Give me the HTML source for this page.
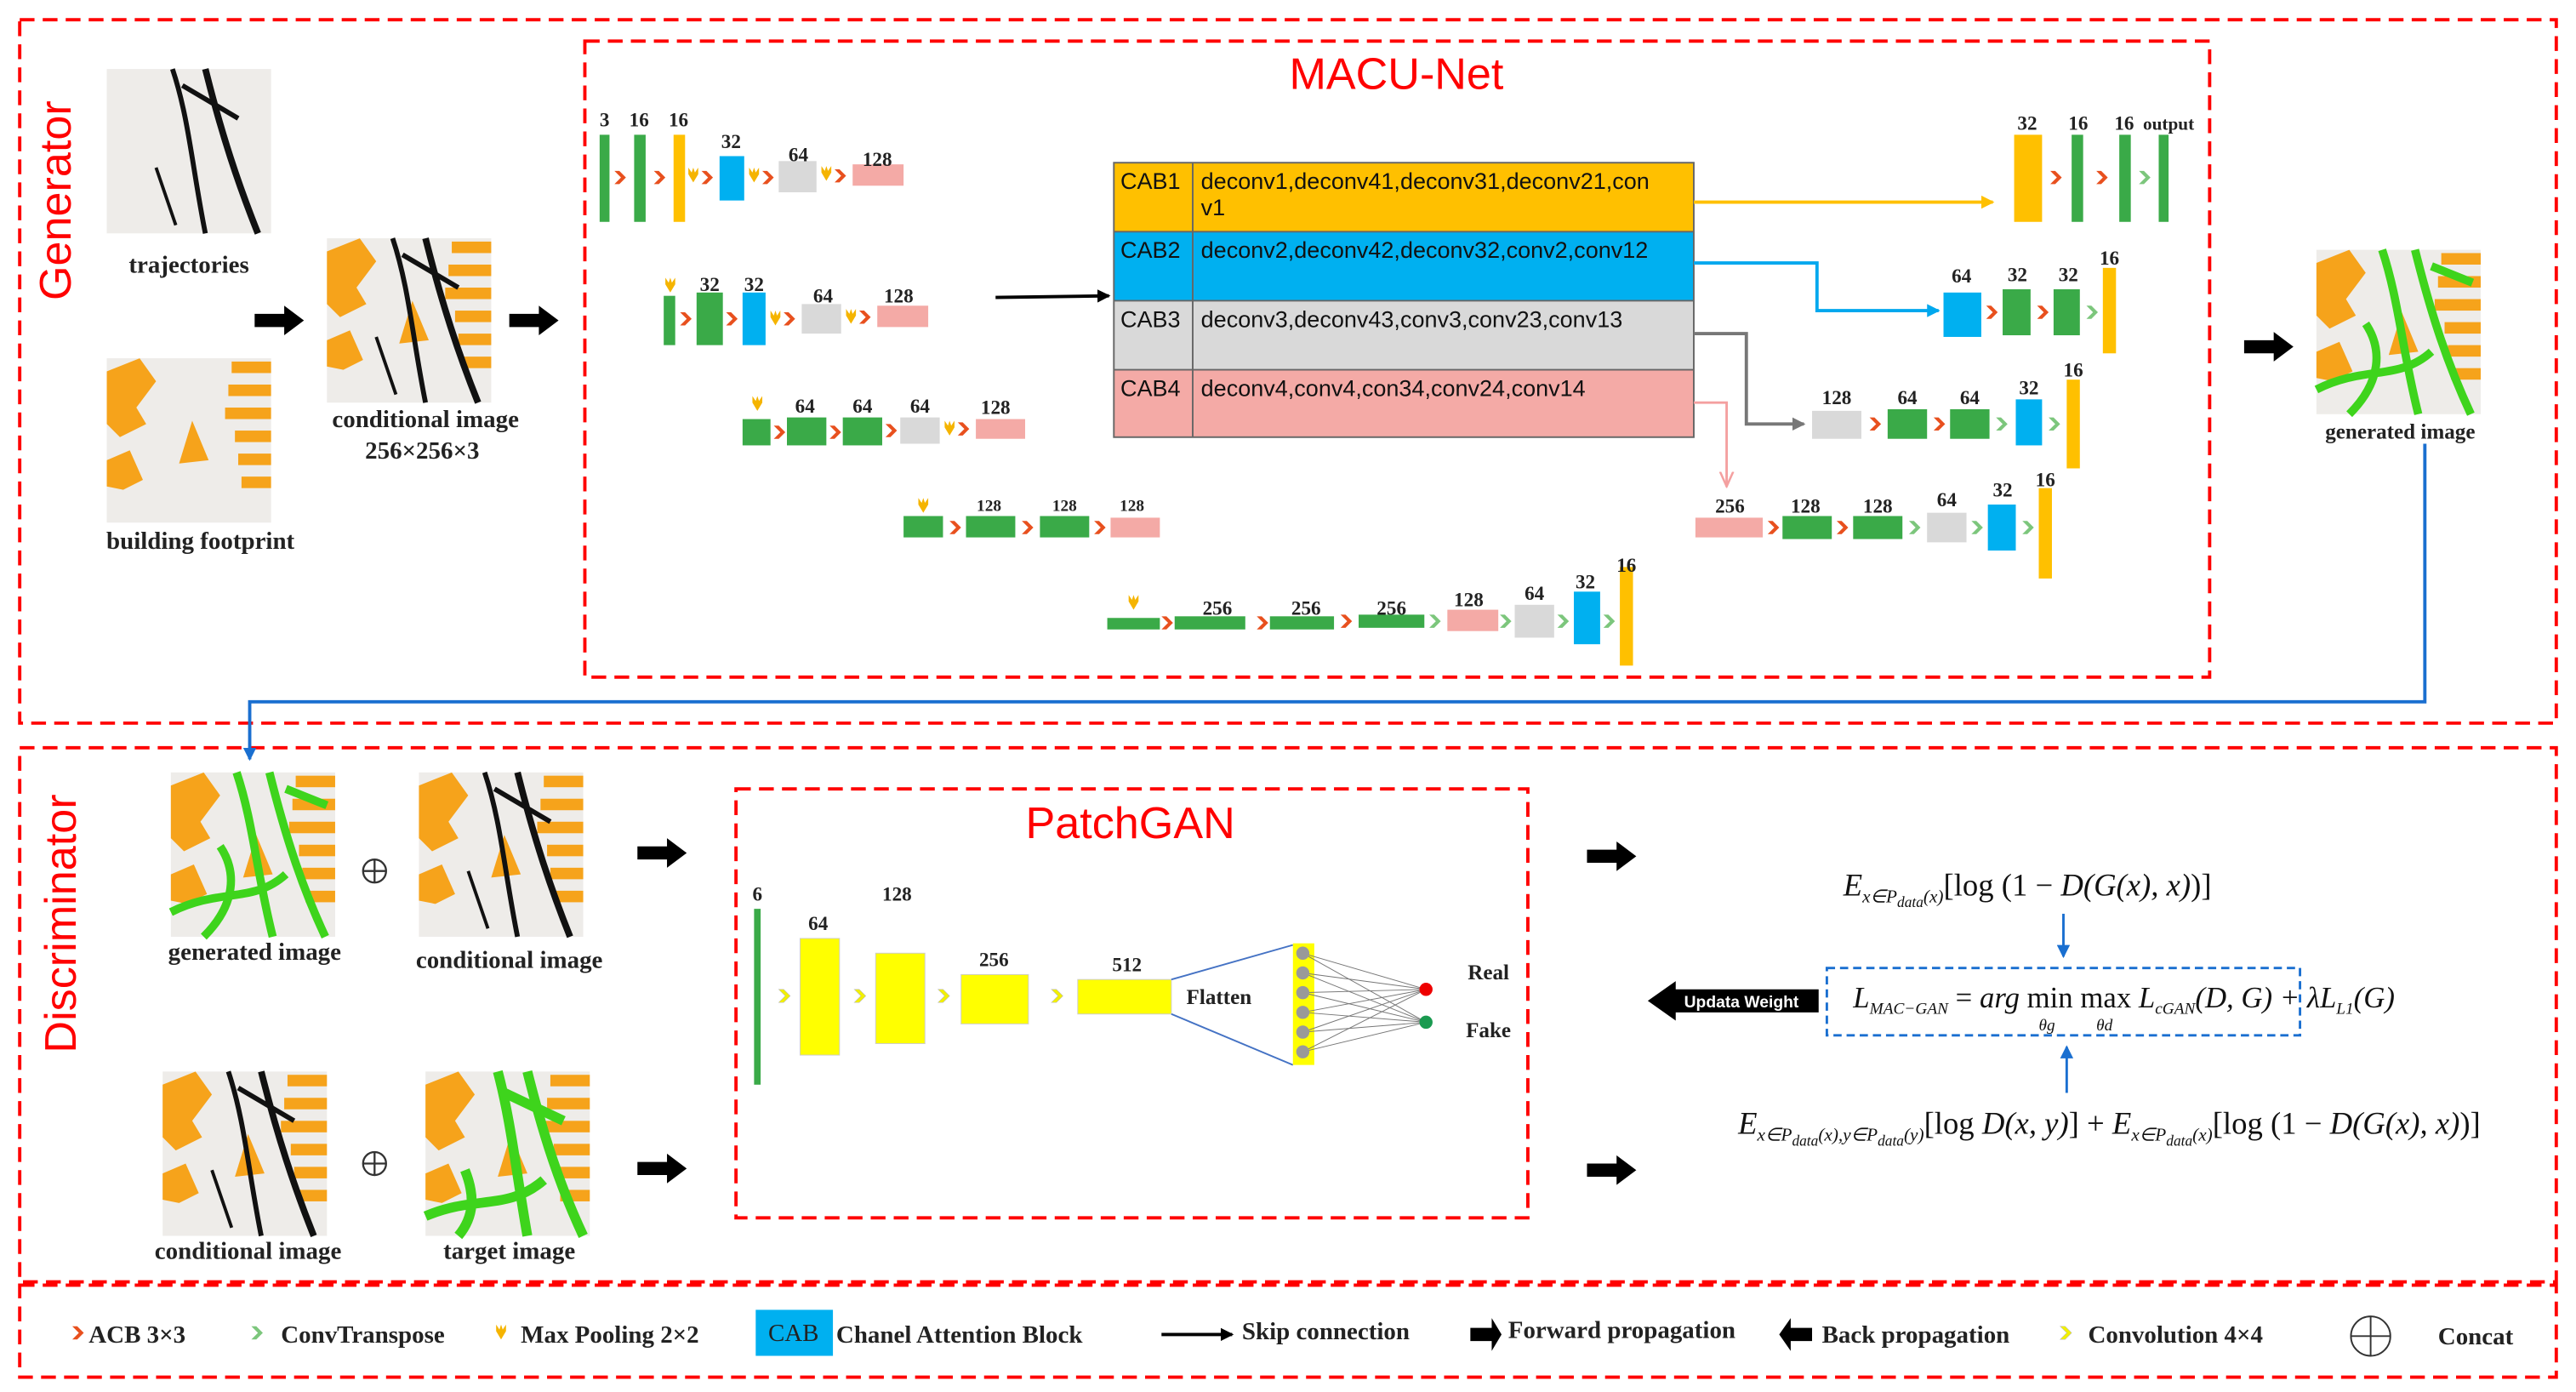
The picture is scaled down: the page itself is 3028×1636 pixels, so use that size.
<!DOCTYPE html>
<html><head><meta charset="utf-8"><style>
html,body{margin:0;padding:0;background:#fff;width:3028px;height:1636px;overflow:hidden}
svg{display:block}
.n{font-family:"Liberation Serif",serif;font-weight:bold;font-size:12px;fill:#222;text-anchor:middle}
.lb{font-family:"Liberation Serif",serif;font-weight:bold;font-size:15px;fill:#222;text-anchor:middle}
.cab{font-family:"Liberation Sans",sans-serif;font-size:14px;fill:#111}
.mf{font-family:"Liberation Serif",serif;font-style:italic;font-size:19px;fill:#111}
.lg{font-family:"Liberation Serif",serif;font-weight:bold;font-size:15px;fill:#222}
.big{font-family:"Liberation Sans",sans-serif;font-size:27px;fill:#f00}
</style></head><body>
<svg width="3028" height="1636" viewBox="0 0 1568 847" preserveAspectRatio="none" xmlns="http://www.w3.org/2000/svg">
<defs>
<polygon id="ch" points="0,0 3,0 7,4 3,8 0,8 4,4" fill="#e8501e"/>
<polygon id="cg" points="0,0 3,0 7,4 3,8 0,8 4,4" fill="#7cc67c"/>
<polygon id="cy" points="0,0 3,0 7,4 3,8 0,8 4,4" fill="#f2f000" stroke="#bbb" stroke-width=".3"/>
<polygon id="mp" points="0,0 2,3 3,0 4,3 6,0 6,4 3,9 0,4" fill="#f5b400"/>
<g id="bldg">
<rect width="100" height="100" fill="#eeece9"/>
<polygon points="0,8 20,0 30,14 18,30 24,40 8,48 0,40" fill="#f6a31b"/>
<polygon points="52,38 62,62 44,64" fill="#f6a31b"/>
<polygon points="0,62 14,56 22,74 10,80 0,78" fill="#f6a31b"/>
<g fill="#f6a31b"><rect x="76" y="2" width="24" height="7"/><rect x="74" y="16" width="26" height="7"/><rect x="72" y="30" width="28" height="7"/><rect x="78" y="44" width="22" height="7"/><rect x="80" y="58" width="20" height="7"/><rect x="82" y="72" width="18" height="7"/></g>
</g>
<g id="trajl" fill="none" stroke="#111" stroke-width="3">
<path d="M40,0 C50,30 52,60 60,100"/><path d="M60,0 C70,40 80,70 92,100" stroke-width="4"/><path d="M46,10 L80,30"/><path d="M30,60 L42,95" stroke-width="2"/>
</g>
<g id="traj"><rect width="100" height="100" fill="#eeece9"/><use href="#trajl"/></g>
<g id="cond"><use href="#bldg"/><use href="#trajl"/></g>
<g id="gen"><use href="#bldg"/><g fill="none" stroke="#3ed41c" stroke-width="5"><path d="M40,0 C50,30 52,60 62,100"/><path d="M60,0 C70,40 80,70 94,100"/><path d="M0,85 C30,70 50,80 70,62"/><path d="M30,45 C40,60 40,80 20,100"/><path d="M70,10 L95,20"/></g></g>
<g id="tgt"><use href="#bldg"/><g fill="none" stroke="#3ed41c" stroke-width="6"><path d="M44,0 C52,30 55,60 62,100"/><path d="M62,0 C72,40 82,70 96,100"/><path d="M0,88 C30,75 50,85 72,66"/><path d="M46,12 L84,30"/><path d="M24,60 C30,75 30,88 20,100"/></g></g>
<marker id="ab" markerWidth="8" markerHeight="8" refX="7" refY="4" orient="auto" markerUnits="userSpaceOnUse"><path d="M0,0 L8,4 L0,8z" fill="#000"/></marker>
<marker id="ay" markerWidth="8" markerHeight="8" refX="7" refY="4" orient="auto" markerUnits="userSpaceOnUse"><path d="M0,0 L8,4 L0,8z" fill="#ffc000"/></marker>
<marker id="abl" markerWidth="8" markerHeight="8" refX="7" refY="4" orient="auto" markerUnits="userSpaceOnUse"><path d="M0,0 L8,4 L0,8z" fill="#00a8ee"/></marker>
<marker id="ag" markerWidth="8" markerHeight="8" refX="7" refY="4" orient="auto" markerUnits="userSpaceOnUse"><path d="M0,0 L8,4 L0,8z" fill="#777"/></marker>
<marker id="ap" markerWidth="10" markerHeight="10" refX="5" refY="9" orient="0" markerUnits="userSpaceOnUse"><path d="M1,0 L5,9 L9,0" fill="none" stroke="#f4a0a0" stroke-width="1.3"/></marker>
<marker id="ad" markerWidth="8" markerHeight="8" refX="7" refY="4" orient="auto" markerUnits="userSpaceOnUse"><path d="M0,0 L8,4 L0,8z" fill="#1a6fd0"/></marker>
<g id="fw"><polygon points="0,-4 18,-4 18,-9 30,0 18,9 18,4 0,4" fill="#000"/></g>
</defs>

<g fill="none" stroke="#f00" stroke-width="2" stroke-dasharray="9,5">
<rect x="12" y="12" width="1544" height="428"/>
<rect x="12" y="455" width="1544" height="325"/>
<rect x="12" y="782" width="1544" height="56"/>
<rect x="356" y="25" width="989" height="387"/>
<rect x="448" y="480" width="482" height="261"/>
</g>
<text class="big" transform="translate(43,122) rotate(-90)" text-anchor="middle">Generator</text>
<text class="big" transform="translate(46,562) rotate(-90)" text-anchor="middle">Discriminator</text>
<text class="big" x="850" y="54" text-anchor="middle">MACU-Net</text>
<text class="big" x="688" y="510" text-anchor="middle">PatchGAN</text>

<use href="#traj" transform="translate(65,42)"/>
<text class="lb" x="115" y="166">trajectories</text>
<use href="#bldg" transform="translate(65,218)"/>
<text class="lb" x="122" y="334">building footprint</text>
<use href="#cond" transform="translate(199,145)"/>
<text class="lb" x="259" y="260">conditional image</text>
<text class="lb" x="257" y="279">256×256×3</text>
<use href="#fw" transform="translate(155,195)"/>
<use href="#fw" transform="translate(310,195)"/>
<use href="#gen" transform="translate(1410,152)"/>
<text class="n" x="1461" y="267" style="font-size:13px">generated image</text>
<use href="#fw" transform="translate(1366,211)"/>

<g>
<rect x="365" y="82" width="6" height="53" fill="#3aaa48"/><rect x="386" y="82" width="7" height="53" fill="#3aaa48"/><rect x="410" y="82" width="7" height="53" fill="#ffc000"/>
<rect x="438" y="95" width="15" height="27" fill="#00b0f0"/><rect x="474" y="98" width="23" height="19" fill="#d9d9d9"/><rect x="519" y="100" width="31" height="13" fill="#f4aaa6"/>
<use href="#ch" x="374" y="104"/><use href="#ch" x="398" y="104"/><use href="#mp" x="419" y="102"/><use href="#ch" x="427" y="104"/>
<use href="#mp" x="456" y="102"/><use href="#ch" x="464" y="104"/><use href="#mp" x="500" y="101"/><use href="#ch" x="508" y="103"/>
<text class="n" x="368" y="77">3</text><text class="n" x="389" y="77">16</text><text class="n" x="413" y="77">16</text><text class="n" x="445" y="90">32</text><text class="n" x="486" y="98">64</text><text class="n" x="534" y="101">128</text>
</g>
<rect x="404" y="180" width="7" height="30" fill="#3aaa48"/><rect x="424" y="178" width="16" height="32" fill="#3aaa48"/><rect x="452" y="178" width="14" height="32" fill="#00b0f0"/>
<rect x="488" y="185" width="24" height="18" fill="#d9d9d9"/><rect x="534" y="186" width="31" height="13" fill="#f4aaa6"/>
<use href="#mp" x="405" y="169"/><use href="#ch" x="414" y="190"/><use href="#ch" x="442" y="190"/><use href="#mp" x="469" y="189"/><use href="#ch" x="477" y="190"/><use href="#mp" x="515" y="188"/><use href="#ch" x="523" y="189"/>
<text class="n" x="432" y="177">32</text><text class="n" x="459" y="177">32</text><text class="n" x="501" y="184">64</text><text class="n" x="547" y="184">128</text>
<line x1="606" y1="181" x2="675" y2="180" stroke="#000" stroke-width="2" marker-end="url(#ab)"/>
<rect x="452" y="255" width="17" height="16" fill="#3aaa48"/><rect x="479" y="254" width="24" height="17" fill="#3aaa48"/><rect x="513" y="254" width="24" height="17" fill="#3aaa48"/><rect x="548" y="254" width="24" height="16" fill="#d9d9d9"/><rect x="594" y="255" width="30" height="12" fill="#f4aaa6"/>
<use href="#mp" x="458" y="241"/><use href="#ch" x="471" y="259"/><use href="#ch" x="505" y="259"/><use href="#ch" x="539" y="258"/><use href="#mp" x="575" y="256"/><use href="#ch" x="583" y="257"/>
<text class="n" x="490" y="251">64</text><text class="n" x="525" y="251">64</text><text class="n" x="560" y="251">64</text><text class="n" x="606" y="252">128</text>
<rect x="550" y="314" width="24" height="13" fill="#3aaa48"/><rect x="588" y="314" width="30" height="13" fill="#3aaa48"/><rect x="633" y="314" width="30" height="13" fill="#3aaa48"/><rect x="676" y="315" width="30" height="12" fill="#f4aaa6"/>
<use href="#mp" x="559" y="303"/><use href="#ch" x="578" y="317"/><use href="#ch" x="622" y="317"/><use href="#ch" x="666" y="317"/>
<text class="n" x="602" y="311" style="font-size:10px">128</text><text class="n" x="648" y="311" style="font-size:10px">128</text><text class="n" x="689" y="311" style="font-size:10px">128</text>
<rect x="674" y="376" width="32" height="7" fill="#3aaa48"/><rect x="715" y="375" width="43" height="8" fill="#3aaa48"/><rect x="773" y="375" width="39" height="8" fill="#3aaa48"/><rect x="827" y="374" width="40" height="8" fill="#3aaa48"/>
<rect x="881" y="371" width="31" height="13" fill="#f4aaa6"/><rect x="922" y="368" width="24" height="20" fill="#d9d9d9"/><rect x="958" y="360" width="16" height="32" fill="#00b0f0"/><rect x="986" y="345" width="8" height="60" fill="#ffc000"/>
<use href="#mp" x="687" y="362"/><use href="#ch" x="707" y="375"/><use href="#ch" x="765" y="375"/><use href="#ch" x="816" y="374"/><use href="#cg" x="870" y="374"/><use href="#cg" x="913" y="374"/><use href="#cg" x="948" y="374"/><use href="#cg" x="976" y="374"/>
<text class="n" x="741" y="374">256</text><text class="n" x="795" y="374">256</text><text class="n" x="847" y="374">256</text><text class="n" x="894" y="369">128</text><text class="n" x="934" y="365">64</text><text class="n" x="965" y="358">32</text><text class="n" x="990" y="348">16</text>

<rect x="678" y="99" width="353" height="42" fill="#ffc000"/>
<rect x="678" y="141" width="353" height="42" fill="#00b0f0"/>
<rect x="678" y="183" width="353" height="42" fill="#d9d9d9"/>
<rect x="678" y="225" width="353" height="41" fill="#f4aaa6"/>
<g stroke="#666" stroke-width="1" fill="none"><rect x="678" y="99" width="353" height="167"/><line x1="678" y1="141" x2="1031" y2="141"/><line x1="678" y1="183" x2="1031" y2="183"/><line x1="678" y1="225" x2="1031" y2="225"/><line x1="726" y1="99" x2="726" y2="266"/></g>
<text class="cab" x="682" y="115">CAB1</text><text class="cab" x="731" y="115">deconv1,deconv41,deconv31,deconv21,con</text><text class="cab" x="731" y="131">v1</text>
<text class="cab" x="682" y="157">CAB2</text><text class="cab" x="731" y="157">deconv2,deconv42,deconv32,conv2,conv12</text>
<text class="cab" x="682" y="199">CAB3</text><text class="cab" x="731" y="199">deconv3,deconv43,conv3,conv23,conv13</text>
<text class="cab" x="682" y="241">CAB4</text><text class="cab" x="731" y="241">deconv4,conv4,con34,conv24,conv14</text>

<line x1="1031" y1="123" x2="1213" y2="123" stroke="#ffc000" stroke-width="2" marker-end="url(#ay)"/>
<polyline points="1031,160 1106,160 1106,189 1180,189" fill="none" stroke="#00a8ee" stroke-width="2" marker-end="url(#abl)"/>
<polyline points="1031,203 1063,203 1063,258 1098,258" fill="none" stroke="#777" stroke-width="2" marker-end="url(#ag)"/>
<polyline points="1031,245 1051,245 1051,296" fill="none" stroke="#f4a0a0" stroke-width="1.5" marker-end="url(#ap)"/>

<rect x="1226" y="82" width="17" height="53" fill="#ffc000"/><rect x="1261" y="82" width="7" height="53" fill="#3aaa48"/><rect x="1290" y="82" width="7" height="53" fill="#3aaa48"/><rect x="1314" y="82" width="6" height="53" fill="#3aaa48"/>
<use href="#ch" x="1248" y="104"/><use href="#ch" x="1276" y="104"/><use href="#cg" x="1302" y="104"/>
<text class="n" x="1234" y="79">32</text><text class="n" x="1265" y="79">16</text><text class="n" x="1293" y="79">16</text><text class="n" x="1320" y="79" style="font-size:11px">output</text>
<rect x="1183" y="178" width="23" height="27" fill="#00b0f0"/><rect x="1219" y="176" width="17" height="28" fill="#3aaa48"/><rect x="1250" y="176" width="16" height="28" fill="#3aaa48"/><rect x="1280" y="163" width="8" height="52" fill="#ffc000"/>
<use href="#ch" x="1209" y="186"/><use href="#ch" x="1240" y="186"/><use href="#cg" x="1270" y="186"/>
<text class="n" x="1194" y="172">64</text><text class="n" x="1228" y="171">32</text><text class="n" x="1259" y="171">32</text><text class="n" x="1284" y="161">16</text>
<rect x="1103" y="250" width="30" height="17" fill="#d9d9d9"/><rect x="1149" y="249" width="24" height="18" fill="#3aaa48"/><rect x="1187" y="249" width="24" height="18" fill="#3aaa48"/><rect x="1227" y="243" width="16" height="28" fill="#00b0f0"/><rect x="1258" y="231" width="8" height="54" fill="#ffc000"/>
<use href="#ch" x="1138" y="254"/><use href="#ch" x="1177" y="254"/><use href="#cg" x="1215" y="254"/><use href="#cg" x="1247" y="254"/>
<text class="n" x="1118" y="246">128</text><text class="n" x="1161" y="246">64</text><text class="n" x="1199" y="246">64</text><text class="n" x="1235" y="240">32</text><text class="n" x="1262" y="229">16</text>
<rect x="1032" y="315" width="41" height="12" fill="#f4aaa6"/><rect x="1085" y="314" width="30" height="14" fill="#3aaa48"/><rect x="1128" y="314" width="30" height="14" fill="#3aaa48"/><rect x="1173" y="312" width="24" height="18" fill="#d9d9d9"/><rect x="1210" y="307" width="17" height="28" fill="#00b0f0"/><rect x="1241" y="297" width="8" height="55" fill="#ffc000"/>
<use href="#ch" x="1076" y="317"/><use href="#ch" x="1118" y="317"/><use href="#cg" x="1162" y="317"/><use href="#cg" x="1200" y="317"/><use href="#cg" x="1231" y="317"/>
<text class="n" x="1053" y="312">256</text><text class="n" x="1099" y="312">128</text><text class="n" x="1143" y="312">128</text><text class="n" x="1185" y="308">64</text><text class="n" x="1219" y="302">32</text><text class="n" x="1245" y="296">16</text>

<polyline points="1476,270 1476,427 152,427 152,462" fill="none" stroke="#1a6fd0" stroke-width="2" marker-end="url(#ad)"/>

<use href="#gen" transform="translate(104,470)"/>
<text class="lb" x="155" y="584">generated image</text>
<use href="#cond" transform="translate(255,470)"/>
<text class="lb" x="310" y="589">conditional image</text>
<use href="#cond" transform="translate(99,652)"/>
<text class="lb" x="151" y="766">conditional image</text>
<use href="#tgt" transform="translate(259,652)"/>
<text class="lb" x="310" y="766">target image</text>
<g fill="none" stroke="#333" stroke-width="1.2"><circle cx="228" cy="530" r="7"/><line x1="221" y1="530" x2="235" y2="530"/><line x1="228" y1="523" x2="228" y2="537"/>
<circle cx="228" cy="708" r="7"/><line x1="221" y1="708" x2="235" y2="708"/><line x1="228" y1="701" x2="228" y2="715"/></g>
<use href="#fw" transform="translate(388,519)"/><use href="#fw" transform="translate(388,711)"/>
<use href="#fw" transform="translate(966,521)"/><use href="#fw" transform="translate(966,712)"/>

<rect x="459" y="553" width="4" height="107" fill="#3aaa48"/>
<rect x="487" y="571" width="24" height="71" fill="#ffff00" stroke="#ccc" stroke-width=".5"/>
<rect x="533" y="580" width="30" height="55" fill="#ffff00" stroke="#ccc" stroke-width=".5"/>
<rect x="585" y="593" width="41" height="30" fill="#ffff00" stroke="#ccc" stroke-width=".5"/>
<rect x="656" y="596" width="57" height="21" fill="#ffff00" stroke="#ccc" stroke-width=".5"/>
<use href="#cy" x="474" y="602"/><use href="#cy" x="520" y="602"/><use href="#cy" x="571" y="602"/><use href="#cy" x="640" y="602"/>
<text class="n" x="461" y="548">6</text><text class="n" x="498" y="566">64</text><text class="n" x="546" y="548">128</text><text class="n" x="605" y="588">256</text><text class="n" x="686" y="591">512</text>
<text class="n" x="742" y="611" style="font-size:13px">Flatten</text>
<line x1="713" y1="596" x2="787" y2="575" stroke="#4472c4"/><line x1="713" y1="617" x2="787" y2="648" stroke="#4472c4"/>
<rect x="787" y="574" width="13" height="74" fill="#ffff00"/>
<g stroke="#777" stroke-width=".5">
<line x1="793" y1="580" x2="868" y2="602"/><line x1="793" y1="592" x2="868" y2="602"/><line x1="793" y1="604" x2="868" y2="602"/><line x1="793" y1="616" x2="868" y2="602"/><line x1="793" y1="628" x2="868" y2="602"/><line x1="793" y1="640" x2="868" y2="602"/>
<line x1="793" y1="580" x2="868" y2="622"/><line x1="793" y1="592" x2="868" y2="622"/><line x1="793" y1="604" x2="868" y2="622"/><line x1="793" y1="616" x2="868" y2="622"/><line x1="793" y1="628" x2="868" y2="622"/><line x1="793" y1="640" x2="868" y2="622"/>
</g>
<g fill="#999"><circle cx="793" cy="580" r="4"/><circle cx="793" cy="592" r="4"/><circle cx="793" cy="604" r="4"/><circle cx="793" cy="616" r="4"/><circle cx="793" cy="628" r="4"/><circle cx="793" cy="640" r="4"/></g>
<circle cx="868" cy="602" r="4" fill="#e00"/><circle cx="868" cy="622" r="4" fill="#1a9a50"/>
<text class="n" x="906" y="596" style="font-size:13px">Real</text><text class="n" x="906" y="631" style="font-size:13px">Fake</text>

<text class="mf" x="1122" y="545">E<tspan font-size="11" dy="4">x∈P</tspan><tspan font-size="9" dy="3">data</tspan><tspan font-size="11" dy="-3">(x)</tspan><tspan dy="-4" font-style="normal">[log (1 − </tspan>D(G(x), x)<tspan font-style="normal">)]</tspan></text>
<line x1="1256" y1="556" x2="1256" y2="582" stroke="#1a6fd0" stroke-width="1.5" marker-end="url(#ad)"/>
<rect x="1112" y="589" width="288" height="41" fill="none" stroke="#1a6fd0" stroke-width="1.5" stroke-dasharray="5,3"/>
<text class="mf" x="1128" y="613" style="font-size:18px">L<tspan font-size="10" dy="4">MAC−GAN</tspan><tspan dy="-4" font-style="normal"> = </tspan>arg <tspan font-style="normal">min max </tspan>L<tspan font-size="10" dy="4">cGAN</tspan><tspan dy="-4">(D, G) + λL</tspan><tspan font-size="10" dy="4">L1</tspan><tspan dy="-4">(G)</tspan></text>
<text class="mf" x="1241" y="627" style="font-size:10px">θg</text><text class="mf" x="1276" y="627" style="font-size:10px">θd</text>
<line x1="1258" y1="665" x2="1258" y2="637" stroke="#1a6fd0" stroke-width="1.5" marker-end="url(#ad)"/>
<text class="mf" x="1058" y="690">E<tspan font-size="11" dy="4">x∈P</tspan><tspan font-size="9" dy="3">data</tspan><tspan font-size="11" dy="-3">(x),y∈P</tspan><tspan font-size="9" dy="3">data</tspan><tspan font-size="11" dy="-3">(y)</tspan><tspan dy="-4" font-style="normal">[log </tspan>D(x, y)<tspan font-style="normal">] + </tspan>E<tspan font-size="11" dy="4">x∈P</tspan><tspan font-size="9" dy="3">data</tspan><tspan font-size="11" dy="-3">(x)</tspan><tspan dy="-4" font-style="normal">[log (1 − </tspan>D(G(x), x)<tspan font-style="normal">)]</tspan></text>
<polygon points="1003,609 1020,597 1020,602 1107,602 1107,616 1020,616 1020,621" fill="#000"/>
<text x="1060" y="613" text-anchor="middle" style="font-family:'Liberation Sans',sans-serif;font-weight:bold;font-size:10px;fill:#fff">Updata Weight</text>

<use href="#ch" x="44" y="807"/><text class="lg" x="54" y="817">ACB 3×3</text>
<use href="#cg" x="153" y="807"/><text class="lg" x="171" y="817">ConvTranspose</text>
<use href="#mp" x="302" y="806"/><text class="lg" x="317" y="817">Max Pooling 2×2</text>
<rect x="460" y="797" width="47" height="28" fill="#00b0f0"/><text class="lg" x="483" y="816" text-anchor="middle" style="font-weight:normal">CAB</text>
<text class="lg" x="509" y="817">Chanel Attention Block</text>
<line x1="707" y1="812" x2="750" y2="812" stroke="#000" stroke-width="2" marker-end="url(#ab)"/><text class="lg" x="756" y="815">Skip connection</text>
<polygon points="895,808 908,808 908,802 914,812 908,822 908,816 895,816" fill="#000"/><text class="lg" x="918" y="814">Forward propagation</text>
<polygon points="1103,808 1090,808 1090,802 1083,812 1090,822 1090,816 1103,816" fill="#000"/><text class="lg" x="1109" y="817">Back propagation</text>
<use href="#cy" x="1254" y="807"/><text class="lg" x="1271" y="817">Convolution 4×4</text>
<g fill="none" stroke="#333"><circle cx="1443" cy="813" r="12"/><line x1="1431" y1="813" x2="1455" y2="813"/><line x1="1443" y1="801" x2="1443" y2="825"/></g>
<text class="lg" x="1484" y="818">Concat</text>
</svg>
</body></html>
